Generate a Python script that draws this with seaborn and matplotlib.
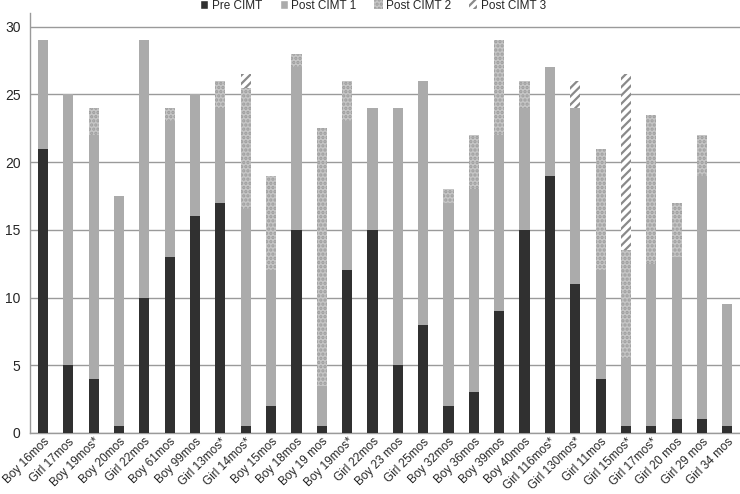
import numpy as np
import pandas as pd
import matplotlib
matplotlib.use("Agg")
import matplotlib.pyplot as plt
import matplotlib.patches as mpatches
import seaborn as sns

# dados
criancas = ["Boy 16mos", "Girl 17mos", "Boy 19mos*", "Boy 20mos", "Girl 22mos",
            "Boy 61mos", "Boy 99mos", "Girl 13mos*", "Girl 14mos*", "Boy 15mos",
            "Boy 18mos", "Boy 19 mos", "Boy 19mos*", "Girl 22mos", "Boy 23 mos",
            "Girl 25mos", "Boy 32mos", "Boy 36mos", "Boy 39mos", "Boy 40mos",
            "Girl 116mos*", "Girl 130mos*", "Girl 11mos", "Girl 15mos*", "Girl 17mos*",
            "Girl 20 mos", "Girl 29 mos", "Girl 34 mos"]
pre_cimt = [21, 5, 4, 0.5, 10, 13, 16, 17, 0.5, 2, 15, 0.5, 12, 15, 5, 8, 2, 3,
            9, 15, 19, 11, 4, 0.5, 0.5, 1, 1, 0.5]
post_cimt_1 = [8, 20, 18, 17, 19, 10, 9, 7, 16, 10, 12, 3, 11, 9, 19, 18, 15, 15,
               13, 9, 8, 13, 8, 5, 12, 12, 18, 9]
post_cimt_2 = [0, 0, 2, 0, 0, 1, 0, 2, 9, 7, 1, 19, 3, 0, 0, 0, 1, 4,
               7, 2, 0, 0, 9, 8, 11, 4, 3, 0]
post_cimt_3 = [0, 0, 0, 0, 0, 0, 0, 0, 1, 0, 0, 0, 0, 0, 0, 0, 0, 0,
               0, 0, 0, 2, 0, 13, 0, 0, 0, 0]

# 1. Configuração visual
sns.set_theme(style="white")
plt.rcParams['font.family'] = ['Liberation Sans', 'DejaVu Sans']
plt.rcParams['hatch.linewidth'] = 1.6

# nomes repetidos -> usar posição como chave
df = pd.DataFrame({'pos': range(len(criancas)), 'crianca': criancas, 'pre': pre_cimt,
                   'p1': post_cimt_1, 'p2': post_cimt_2, 'p3': post_cimt_3})
df['t1'] = df['pre'] + df['p1']
df['t2'] = df['t1'] + df['p2']
df['t3'] = df['t2'] + df['p3']

fig = plt.figure(figsize=(7.4, 4.94), dpi=100)
ax = fig.add_axes([0.041, 0.1235, 0.959, 0.85])

# barras empilhadas: desenha do total para a base
camadas = [
    ('t3', 'white', '////', '#8a8a8a'),
    ('t2', '#c6c6c6', '....', '#9c9c9c'),
    ('t1', '#ababab', None, None),
    ('pre', '#303030', None, None),
]
for col, cor, hachura, cor_borda in camadas:
    sns.barplot(data=df, x='pos', y=col, color=cor, width=0.4, errorbar=None,
                saturation=1, ax=ax, linewidth=0, zorder=3)
    if hachura:
        for p in ax.patches[-len(df):]:
            p.set_hatch(hachura)
            p.set_edgecolor(cor_borda)
            p.set_linewidth(0)
            p.set_facecolor(cor)

ax.set_ylim(0, 31)
ax.set_xlim(-0.5, len(df) - 0.5)
ax.set_yticks([0, 5, 10, 15, 20, 25, 30])
ax.yaxis.grid(True, color='#9a9a9a', linewidth=1, zorder=0)
ax.set_axisbelow(True)
ax.set_xlabel('')
ax.set_ylabel('')

for s in ['top', 'right']:
    ax.spines[s].set_visible(False)
for s in ['left', 'bottom']:
    ax.spines[s].set_color('#9a9a9a')
    ax.spines[s].set_linewidth(1)

ax.set_xticks(range(len(df)))
ax.set_xticklabels(criancas, rotation=45, ha='right', rotation_mode='anchor', fontsize=8.5)
ax.tick_params(axis='x', length=0, pad=2)
ax.set_xticks(np.arange(-0.5, len(df), 1), minor=True)
ax.tick_params(axis='x', which='minor', length=5, color='#9a9a9a', width=1)
ax.tick_params(axis='y', length=5, color='#9a9a9a', width=1, labelsize=10, pad=2)

# legenda
handles = [
    mpatches.Patch(facecolor='#303030', label='Pre CIMT'),
    mpatches.Patch(facecolor='#ababab', label='Post CIMT 1'),
    mpatches.Patch(facecolor='#c6c6c6', hatch='....', edgecolor='#9c9c9c', linewidth=0, label='Post CIMT 2'),
    mpatches.Patch(facecolor='white', hatch='////', edgecolor='#8a8a8a', linewidth=0, label='Post CIMT 3'),
]
fig.legend(handles=handles, loc='upper center', bbox_to_anchor=(0.504, 1.022), ncol=4,
           frameon=False, fontsize=8.5, handlelength=0.7, handleheight=0.7,
           handletextpad=0.3, columnspacing=1.5)

plt.savefig('out.png', dpi=100)
